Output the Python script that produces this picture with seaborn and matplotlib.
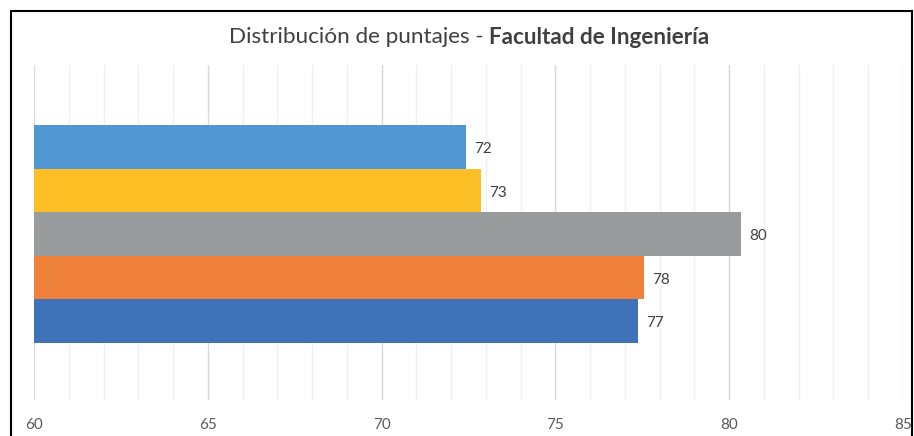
import matplotlib
matplotlib.use("Agg")
import matplotlib.pyplot as plt
from matplotlib.patches import Rectangle
import pandas as pd
import seaborn as sns

# data (bar ends; labels show rounded values)
series = ["Serie 1", "Serie 2", "Serie 3", "Serie 4", "Serie 5"]
scores = [72.43, 72.86, 80.34, 77.55, 77.37]
colors = ["#5097D3", "#FDBF26", "#999C9C", "#F0813B", "#3F72B8"]
x_ticks = [60, 65, 70, 75, 80, 85]

df = pd.DataFrame({"serie": series, "puntaje": scores})

sns.set_style("white")
plt.rcParams["font.family"] = ["Lato", "DejaVu Sans"]

fig = plt.figure(figsize=(9.14, 4.36), dpi=100)
ax = fig.add_axes([34 / 914, 1 - 400 / 436, (903 - 34) / 914, (400 - 65) / 436])

sns.barplot(data=df, x="puntaje", y="serie", hue="serie", palette=colors,
            orient="h", width=1.0, legend=False, ax=ax, saturation=1,
            edgecolor="none")

ax.set_xlim(60, 85)
ax.set_ylim(5.81, -1.88)
ax.set_xticks(x_ticks)
ax.set_xticks(range(60, 86), minor=True)
ax.set_yticks([])
ax.set_xlabel("")
ax.set_ylabel("")
ax.grid(axis="x", which="minor", color="#EFEFEF", linewidth=1.0, zorder=0)
ax.grid(axis="x", which="major", color="#D9D9D9", linewidth=1.0, zorder=0)
ax.set_axisbelow(True)
for s in ax.spines.values():
    s.set_visible(False)
ax.tick_params(axis="x", which="both", length=0, pad=13, labelsize=11,
               labelcolor="#595959")

for i, v in enumerate(scores):
    ax.annotate(f"{round(v)}", xy=(v, i), xytext=(6, -1.5), textcoords="offset points",
                va="center", ha="left", fontsize=11, color="#404040")

# title: regular + bold parts, centred together
t1 = fig.text(0, 1 - 37 / 436, "Distribución de puntajes - ", fontsize=16.2,
              color="#404040", va="center", ha="left")
t2 = fig.text(0, 1 - 37 / 436, "Facultad de Ingeniería", fontsize=16.2,
              color="#404040", va="center", ha="left", fontweight="bold")
fig.canvas.draw()
r = fig.canvas.get_renderer()
w1 = t1.get_window_extent(r).width
w2 = t2.get_window_extent(r).width
x0 = 469 - (w1 + w2) / 2
t1.set_x(x0 / 914)
t2.set_x((x0 + w1) / 914)

# chart frame (cut off at the bottom)
fig.patches.append(Rectangle((11 / 914, -0.1), (912 - 11) / 914, (436 - 11) / 436 + 0.1,
                             transform=fig.transFigure, fill=False,
                             edgecolor="black", linewidth=1.5))

fig.savefig("out.png", dpi=100)
